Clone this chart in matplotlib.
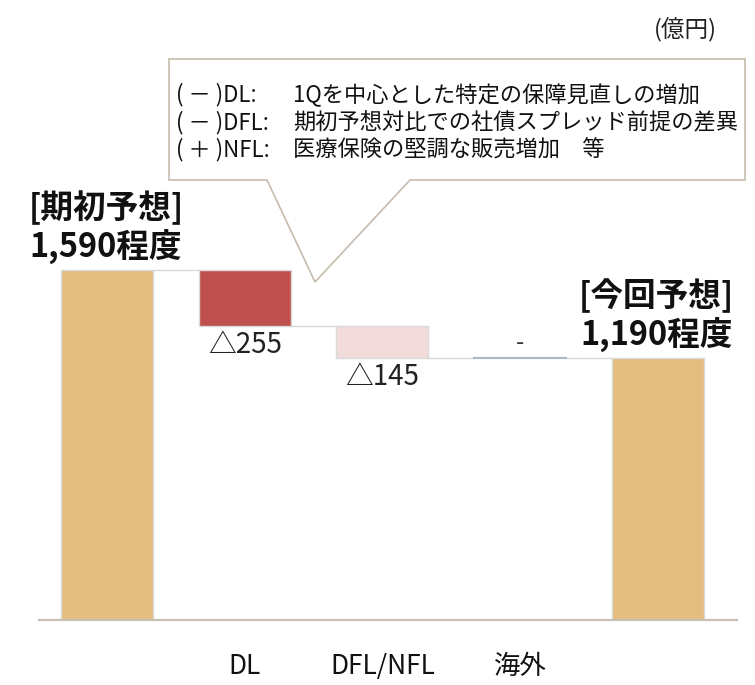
import matplotlib
matplotlib.use('Agg')
import matplotlib.pyplot as plt
from matplotlib.patches import Polygon

plt.rcParams['font.family'] = ['Noto Sans CJK JP', 'DejaVu Sans']

# waterfall data (億円)
categories = ['期初予想', 'DL', 'DFL/NFL', '海外', '今回予想']
start_value = 1590
changes = [-255, -145, 0]
end_value = 1190
change_labels = ['△255', '△145', '-']
tick_labels = ['', 'DL', 'DFL/NFL', '海外', '']
total_titles = ['[期初予想]', '[今回予想]']
total_texts = ['1,590程度', '1,190程度']
note_prefix = ['( － )DL:', '( － )DFL:', '( ＋ )NFL:']
note_body = ['1Qを中心とした特定の保障見直しの増加',
             '期初予想対比での社債スプレッド前提の差異',
             '医療保険の堅調な販売増加　等']

W, H = 755, 685
fig = plt.figure(figsize=(W / 100, H / 100), dpi=100)
ax = fig.add_axes([0, 65 / H, 1, 620 / H])

tan = '#E4BE80'
change_colors = ['#C0504D', '#F2DCDB', '#A9B8C9']
edge = '#D9D9D9'
width = 0.668

# totals
x = list(range(len(categories)))
ax.bar(x[0], start_value, width, color=tan, edgecolor=edge, linewidth=1)
ax.bar(x[-1], end_value, width, color=tan, edgecolor=edge, linewidth=1)

# change bars + connectors
level = start_value
for i, (ch, col) in enumerate(zip(changes, change_colors)):
    xi = x[i + 1]
    ax.plot([xi - 1 + width / 2, xi - width / 2], [level, level], color=edge, lw=1, zorder=1)
    new_level = level + ch
    if ch == 0:
        ax.plot([xi - width / 2, xi + width / 2], [level, level], color=col, lw=1.5, zorder=2)
        ax.annotate(change_labels[i], (xi, level), xytext=(0, 15), textcoords='offset pixels',
                    ha='center', va='center', fontsize=17, color='#333333')
    else:
        ax.bar(xi, ch, width, bottom=level, color=col, edgecolor=edge, linewidth=1, zorder=2)
        ax.annotate(change_labels[i], (xi, new_level), xytext=(0, -19), textcoords='offset pixels',
                    ha='center', va='center', fontsize=20, color='#222222')
    level = new_level
ax.plot([x[-1] - 1 + width / 2, x[-1] - width / 2], [level, level], color=edge, lw=1, zorder=1)

# total labels
for xi, val, t1, t2 in [(x[0], start_value, total_titles[0], total_texts[0]),
                        (x[-1], end_value, total_titles[1], total_texts[1])]:
    ax.annotate(t1, (xi, val), xytext=(-1, 62), textcoords='offset pixels',
                ha='center', va='center', fontsize=23.5, fontweight='bold', color='#111111')
    ax.annotate(t2, (xi, val), xytext=(-1, 23), textcoords='offset pixels',
                ha='center', va='center', fontsize=23.5, fontweight='bold', color='#111111')

# baseline
ax.plot([-0.494, 4.575], [0, 0], color='#C8C0B4', lw=1.6, clip_on=False)

ax.set_xlim(-0.777, 4.706)
ax.set_ylim(0, 2817)
ax.set_xticks(x)
ax.set_xticklabels(tick_labels, fontsize=19, color='#111111')
ax.tick_params(axis='x', length=0, pad=24)
ax.set_yticks([])
for s in ax.spines.values():
    s.set_visible(False)

# callout box
def fp(px, py):
    return (px / W, 1 - py / H)

box = [fp(169, 59), fp(745, 59), fp(745, 180), fp(410, 180), fp(315, 282),
       fp(267, 180), fp(169, 180)]
fig.patches.append(Polygon(box, closed=True, transform=fig.transFigure,
                           facecolor='white', edgecolor='#C6BCAD', lw=1.2, zorder=5))
for i, (p, b) in enumerate(zip(note_prefix, note_body)):
    y = 95 + i * 27.5
    fig.text(176 / W, 1 - y / H, p, fontsize=16, va='center', ha='left', color='#111111', zorder=6)
    fig.text(293 / W, 1 - y / H, b, fontsize=16, va='center', ha='left', color='#111111', zorder=6)

fig.text(685 / W, 1 - 30 / H, '(億円)', fontsize=17, ha='center', va='center', color='#222222')

fig.savefig('out.png', dpi=100)
